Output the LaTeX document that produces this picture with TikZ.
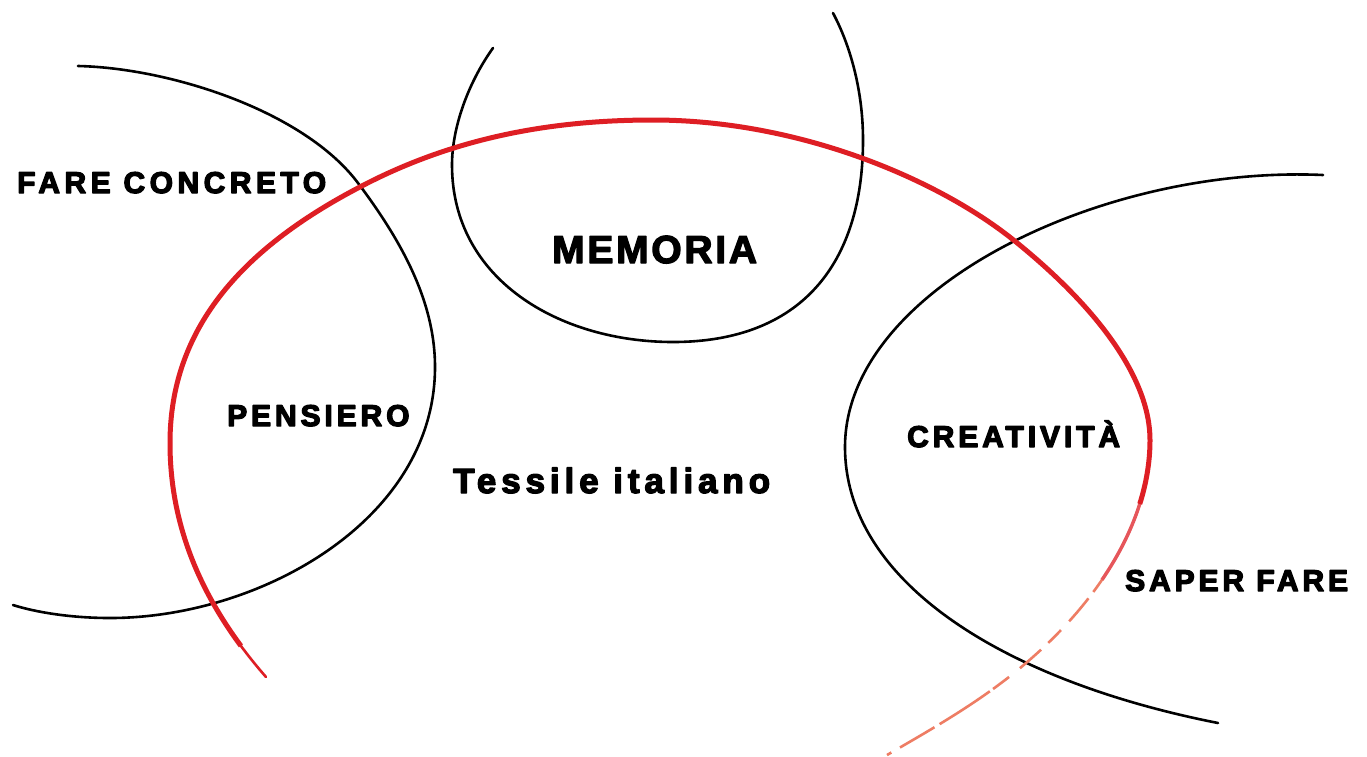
\documentclass[tikz,border=0pt]{standalone}
\usepackage{fontspec}
\newfontfamily\lab{Liberation Sans Bold}
\newcommand\heavy[1]{\special{pdf:literal 2 Tr 1.3 w 0 J 1 j}#1\special{pdf:literal 0 Tr}}
\definecolor{rib}{RGB}{222,30,36}
\definecolor{ribfade}{RGB}{238,125,100}
\begin{document}
\begin{tikzpicture}[x=1pt,y=-1pt,
  arcline/.style={draw=black, line width=2.6pt, line cap=round},
  ribbon/.style={draw=rib, line width=5pt},
  lbl/.style={inner sep=0pt, anchor=base west, text=black,
    font=\lab\fontsize{30}{30}\selectfont\addfontfeature{LetterSpace=13}},
  bigl/.style={lbl, font=\lab\fontsize{39}{39}\selectfont\addfontfeature{LetterSpace=7}},
  midl/.style={lbl, font=\lab\fontsize{35}{35}\selectfont\addfontfeature{LetterSpace=14}}]
\fill[white] (0,0) rectangle (1367,756);
\useasboundingbox (0,0) rectangle (1367,756);

% left black arc
\draw[arcline] (78,66) .. controls (170,68) and (304,111) .. (358,183)
  .. controls (400,239) and (435,300) .. (435,367)
  .. controls (435,520) and (260,618) .. (110,618)
  .. controls (70,618) and (35,612) .. (13,605);
% memoria arc
\draw[arcline] (493,48) .. controls (470,80) and (452,125) .. (452,165)
  .. controls (452,280) and (560,342) .. (673,342)
  .. controls (800,342) and (863,265) .. (863,140)
  .. controls (863,90) and (850,45) .. (833,13);
% right black arc
\draw[arcline] (1323,175) .. controls (1100,165) and (845,290) .. (845,447)
  .. controls (845,580) and (1000,680) .. (1218,723);

% red ribbon: faded tail
\draw[draw=ribfade, line width=2.6pt, dash pattern=on 20pt off 4pt on 60pt off 6pt on 40pt off 10pt on 25pt off 8pt on 30pt off 12pt on 18pt off 10pt on 28pt off 14pt]
  (1150,440) .. controls (1150,520) and (1100,600) .. (1026,663)
  .. controls (982,701) and (930,730) .. (887,755);
\draw[draw=rib!75, line width=3.4pt, dash pattern=on 150pt off 3000pt]
  (1150,440) .. controls (1150,520) and (1100,600) .. (1026,663);
\draw[ribbon, dash pattern=on 65pt off 3000pt]
  (1150,440) .. controls (1150,520) and (1100,600) .. (1026,663);
% red ribbon: thin start
\draw[draw=rib, line width=2.6pt, line cap=round]
  (266,677) .. controls (190,590) and (170,510) .. (170,443);
% red ribbon main
\draw[ribbon, dash pattern=on 0pt off 40pt on 5000pt off 0pt]
  (266,677) .. controls (190,590) and (170,510) .. (170,443)
  .. controls (170,330) and (240,250) .. (358,188)
  .. controls (452,138) and (550,120) .. (653,120)
  .. controls (800,120) and (940,180) .. (1016,242)
  .. controls (1100,310) and (1150,380) .. (1150,440);

% labels
\node[lbl]  (fare)  at (17,193)  {\addfontfeature{LetterSpace=15}\heavy{FARE CONCRETO}};
\node[lbl]  (pens)  at (227,426) {\heavy{PENSIERO}};
\node[bigl] (mem)   at (552,263) {\heavy{MEMORIA}};
\node[midl] (tess)  at (453,493) {\heavy{Tessile italiano}};
\node[lbl]  (crea)  at (907,447) {\heavy{CREATIVITÀ}};
\node[lbl]  (saper) at (1125,591) {\heavy{SAPER FARE}};
\end{tikzpicture}
\end{document}
